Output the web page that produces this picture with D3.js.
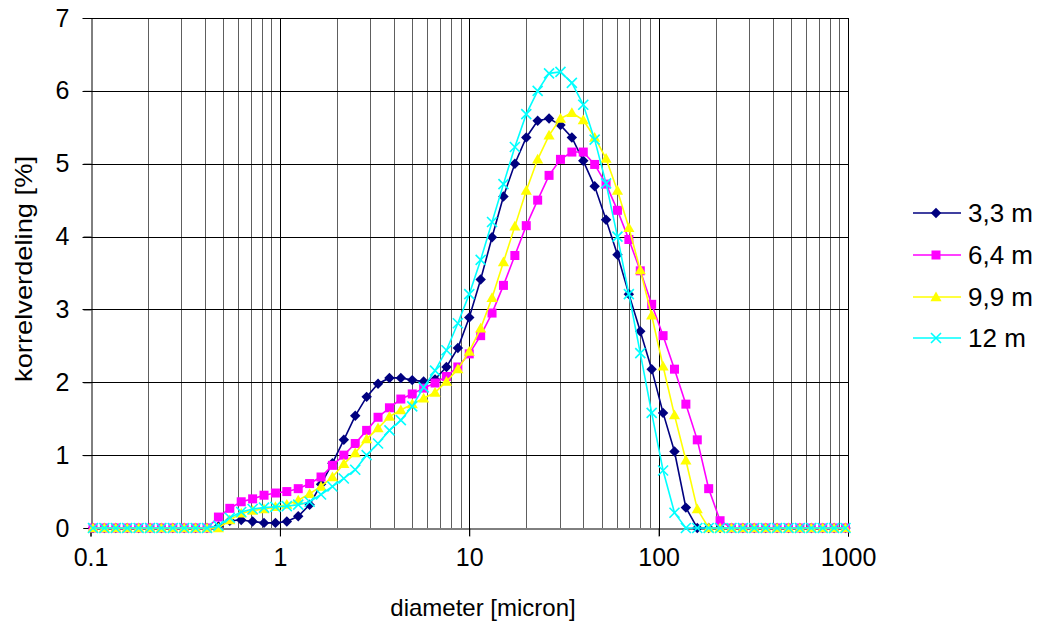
<!DOCTYPE html>
<html>
<head>
<meta charset="utf-8">
<script src="https://cdn.jsdelivr.net/npm/d3@7"></script>
<style>
  body { margin: 0; background: #fff; }
  text { font-family: Arial, "Liberation Sans", sans-serif; fill: #000; }
</style>
</head>
<body>
<script>
var w = 1047;
var h = 632;

// diameter classes [micron]
var diameters = [0.1031, 0.1184, 0.1360, 0.1563, 0.1795, 0.2062, 0.2368, 0.2720, 0.3125, 0.3590,
    0.4123, 0.4737, 0.5441, 0.625, 0.7179, 0.8247, 0.9473, 1.0882, 1.25, 1.4359,
    1.6494, 1.8946, 2.1764, 2.5, 2.8717, 3.2988, 3.7893, 4.3528, 5, 5.7435,
    6.5975, 7.5786, 8.7055, 10, 11.487, 13.195, 15.157, 17.411, 20, 22.974,
    26.390, 30.314, 34.822, 40, 45.948, 52.780, 60.629, 69.644, 80, 91.896,
    105.56, 121.26, 139.29, 160, 183.79, 211.12, 242.52, 278.58, 320, 367.58,
    422.24, 485.03, 557.15, 640, 735.17, 844.49, 970.06];

var depth33 = [0, 0, 0, 0, 0, 0, 0, 0, 0, 0, 0,
    0.02, 0.10, 0.11, 0.09, 0.07, 0.07, 0.09, 0.16, 0.32, 0.60,
    0.89, 1.21, 1.54, 1.80, 1.98, 2.06, 2.06, 2.03, 2.01, 2.04,
    2.21, 2.47, 2.89, 3.41, 3.99, 4.55, 5.00, 5.36, 5.59, 5.62,
    5.53, 5.36, 5.04, 4.69, 4.23, 3.75, 3.21, 2.70, 2.18, 1.58,
    1.05, 0.28,
    0, 0, 0, 0, 0, 0, 0, 0, 0, 0, 0, 0, 0, 0];

var depth64 = [0, 0, 0, 0, 0, 0, 0, 0, 0, 0, 0,
    0.15, 0.27, 0.36, 0.40, 0.45, 0.48, 0.50, 0.54, 0.61, 0.70,
    0.86, 1.00, 1.16, 1.34, 1.52, 1.65, 1.77, 1.84, 1.92, 1.99,
    2.08, 2.21, 2.39, 2.64, 2.95, 3.33, 3.74, 4.15, 4.50, 4.84,
    5.06, 5.16, 5.16, 4.99, 4.72, 4.36, 3.96, 3.53, 3.07, 2.64,
    2.18, 1.70, 1.21, 0.54, 0.10,
    0, 0, 0, 0, 0, 0, 0, 0, 0, 0, 0];

var depth99 = [0, 0, 0, 0, 0, 0, 0, 0, 0, 0, 0, 0,
    0.11, 0.20, 0.24, 0.26, 0.29, 0.32, 0.38, 0.47, 0.57,
    0.70, 0.88, 1.03, 1.22, 1.37, 1.53, 1.62, 1.70, 1.78, 1.86,
    2.01, 2.18, 2.42, 2.74, 3.16, 3.65, 4.14, 4.63, 5.06, 5.39,
    5.62, 5.70, 5.60, 5.36, 5.07, 4.63, 4.12, 3.54, 2.92, 2.22,
    1.55, 0.93, 0.26,
    0, 0, 0, 0, 0, 0, 0, 0, 0, 0, 0, 0, 0];

var depth12 = [0, 0, 0, 0, 0, 0, 0, 0, 0, 0, 0,
    0.03, 0.14, 0.22, 0.26, 0.28, 0.29, 0.30, 0.32, 0.36, 0.46,
    0.57, 0.68, 0.80, 1.00, 1.16, 1.34, 1.48, 1.67, 1.93, 2.16,
    2.44, 2.81, 3.21, 3.68, 4.20, 4.72, 5.23, 5.68, 6.00, 6.24,
    6.26, 6.11, 5.81, 5.33, 4.73, 4.00, 3.21, 2.40, 1.58, 0.79,
    0.21,
    0, 0, 0, 0, 0, 0, 0, 0, 0, 0, 0, 0, 0, 0, 0];

var seriesNames = ["3,3 m", "6,4 m", "9,9 m", "12 m"];
var seriesColors = ["#000080", "#ff00ff", "#ffff00", "#00ffff"];
var seriesShapes = ["diamond", "square", "triangle", "cross"];
var seriesValues = [depth33, depth64, depth99, depth12];

var xTicks = [0.1, 1, 10, 100, 1000];
var xTickLabels = ["0.1", "1", "10", "100", "1000"];
var yTicks = [0, 1, 2, 3, 4, 5, 6, 7];

var svg = d3.select("body")
    .append("svg")
    .attr("width", w)
    .attr("height", h);

var x = d3.scaleLog().domain([0.1, 1000]).range([90.5, 848]);
var y = d3.scaleLinear().domain([0, 7]).range([528, 18]);

// minor gridlines 2..9 of every decade
var minor = [];
[0.1, 1, 10, 100].forEach(function (d) {
    for (var i = 2; i <= 9; i++) minor.push(d * i);
});

var grid = svg.append("g").attr("id", "grid");
grid.selectAll("line.minor")
    .data(minor)
    .enter()
    .append("line")
    .attr("x1", d => Math.round(x(d)) + 0.5)
    .attr("x2", d => Math.round(x(d)) + 0.5)
    .attr("y1", y(7))
    .attr("y2", y(0))
    .attr("stroke", "#5e5e5e")
    .attr("stroke-width", 1);
grid.selectAll("line.major")
    .data(xTicks.slice(1))
    .enter()
    .append("line")
    .attr("x1", d => Math.round(x(d)) + 0.5)
    .attr("x2", d => Math.round(x(d)) + 0.5)
    .attr("y1", y(7))
    .attr("y2", y(0) + 8)
    .attr("stroke", "#000")
    .attr("stroke-width", 1);
grid.selectAll("line.h")
    .data(yTicks.slice(1))
    .enter()
    .append("line")
    .attr("x1", x(0.1) - 8)
    .attr("x2", x(1000))
    .attr("y1", d => Math.round(y(d)) + 0.5)
    .attr("y2", d => Math.round(y(d)) + 0.5)
    .attr("stroke", "#000")
    .attr("stroke-width", 1);

// axes
var xAxis = d3.axisBottom(x)
    .tickValues(xTicks)
    .tickFormat((d, i) => xTickLabels[i])
    .tickSize(8)
    .tickPadding(12);
var gx = svg.append("g")
    .attr("transform", "translate(0," + (Math.round(y(0)) + 0.5) + ")")
    .call(xAxis);
gx.select(".domain").attr("stroke", "#000");

var yAxis = d3.axisLeft(y)
    .tickValues(yTicks)
    .tickFormat(d3.format("d"))
    .tickSize(8)
    .tickPadding(14);
var gy = svg.append("g")
    .attr("transform", "translate(" + (Math.round(x(0.1)) + 0.5) + ",0)")
    .call(yAxis);
gy.select(".domain").attr("stroke", "#000");

svg.selectAll(".tick text")
    .attr("font-size", 25)
    .attr("font-family", "Arial, 'Liberation Sans', sans-serif")
    .attr("fill", "#000");
svg.selectAll(".tick line").attr("stroke", "#000");

// axis titles
svg.append("text")
    .attr("x", 483)
    .attr("y", 616)
    .attr("text-anchor", "middle")
    .attr("font-size", 24)
    .text("diameter [micron]");
svg.append("text")
    .attr("transform", "translate(32,269) rotate(-90)")
    .attr("text-anchor", "middle")
    .attr("font-size", 24)
    .attr("textLength", 226)
    .attr("lengthAdjust", "spacingAndGlyphs")
    .text("korrelverdeling [%]");

// marker shapes
function marker(sel, shape, color, size) {
    if (shape === "diamond") {
        var r = size * 0.58;
        sel.append("path").attr("d", "M0," + (-r) + "L" + r + ",0L0," + r + "L" + (-r) + ",0Z")
            .attr("fill", color);
    } else if (shape === "square") {
        sel.append("rect").attr("x", -size / 2).attr("y", -size / 2)
            .attr("width", size).attr("height", size).attr("fill", color);
    } else if (shape === "triangle") {
        var s = size * 0.62;
        sel.append("path").attr("d", "M0," + (-s) + "L" + s + "," + (s * 0.75) + "L" + (-s) + "," + (s * 0.75) + "Z")
            .attr("fill", color);
    } else {
        var c = size / 2 + 0.5;
        sel.append("path").attr("d", "M" + (-c) + "," + (-c) + "L" + c + "," + c + "M" + (-c) + "," + c + "L" + c + "," + (-c))
            .attr("stroke", color).attr("stroke-width", 1.6).attr("fill", "none");
    }
}

var line = d3.line()
    .x(d => x(d[0]))
    .y(d => y(d[1]));

var plot = svg.append("g").attr("id", "series");
seriesValues.forEach(function (vals, si) {
    var pts = diameters.map((d, i) => [d, vals[i]]);
    var g = plot.append("g");
    g.append("path")
        .attr("d", line(pts))
        .attr("fill", "none")
        .attr("stroke", seriesColors[si])
        .attr("stroke-width", 1.6);
    g.selectAll("g.pt")
        .data(pts)
        .enter()
        .append("g")
        .attr("transform", d => "translate(" + x(d[0]) + "," + y(d[1]) + ")")
        .each(function () {
            marker(d3.select(this), seriesShapes[si], seriesColors[si], 9);
        });
});

// legend
var legendY = [213, 255, 297, 338];
var legend = svg.append("g").attr("id", "legend");
seriesNames.forEach(function (name, i) {
    var g = legend.append("g").attr("transform", "translate(0," + legendY[i] + ")");
    g.append("line")
        .attr("x1", 913).attr("x2", 961)
        .attr("y1", 0).attr("y2", 0)
        .attr("stroke", seriesColors[i])
        .attr("stroke-width", 1.6);
    marker(g.append("g").attr("transform", "translate(936,0)"), seriesShapes[i], seriesColors[i], 9);
    g.append("text")
        .attr("x", 968)
        .attr("y", 0)
        .attr("dy", "0.35em")
        .attr("font-size", 26)
        .text(name);
});
</script>
</body>
</html>
